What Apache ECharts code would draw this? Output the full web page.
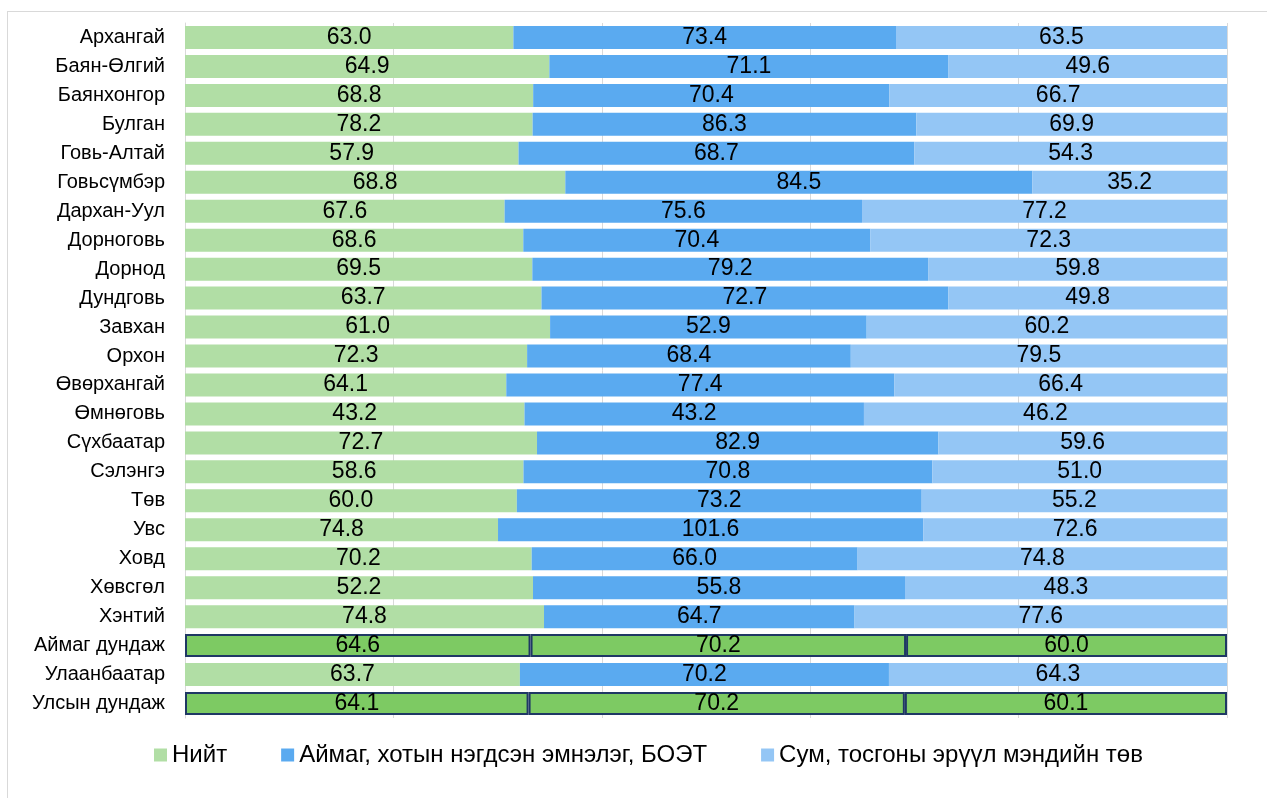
<!DOCTYPE html>
<html>
<head>
<meta charset="utf-8">
<script src="https://cdn.jsdelivr.net/npm/echarts@6/dist/echarts.min.js"></script>
<style>
  html, body { margin: 0; padding: 0; background: #fff; }
  #frame { position: absolute; left: 7px; top: 11px; width: 1300px; height: 820px; border: 1px solid #d9d9d9; }
  #main { position: absolute; left: 0; top: 0; width: 1267px; height: 798px; }
</style>
</head>
<body>
<div id="frame"></div>
<div id="main"></div>
<script>
var aimags = ["Архангай", "Баян-Өлгий", "Баянхонгор", "Булган", "Говь-Алтай", "Говьсүмбэр", "Дархан-Уул", "Дорноговь", "Дорнод", "Дундговь", "Завхан", "Орхон", "Өвөрхангай", "Өмнөговь", "Сүхбаатар", "Сэлэнгэ", "Төв", "Увс", "Ховд", "Хөвсгөл", "Хэнтий", "Аймаг дундаж", "Улаанбаатар", "Улсын дундаж"];
var series_names = ["Нийт", "Аймаг, хотын нэгдсэн эмнэлэг, БОЭТ", "Сум, тосгоны эрүүл мэндийн төв"];
var niit = [63.0, 64.9, 68.8, 78.2, 57.9, 68.8, 67.6, 68.6, 69.5, 63.7, 61.0, 72.3, 64.1, 43.2, 72.7, 58.6, 60.0, 74.8, 70.2, 52.2, 74.8, 64.6, 63.7, 64.1];
var aimag_emneleg = [73.4, 71.1, 70.4, 86.3, 68.7, 84.5, 75.6, 70.4, 79.2, 72.7, 52.9, 68.4, 77.4, 43.2, 82.9, 70.8, 73.2, 101.6, 66.0, 55.8, 64.7, 70.2, 70.2, 70.2];
var sum_tov = [63.5, 49.6, 66.7, 69.9, 54.3, 35.2, 77.2, 72.3, 59.8, 49.8, 60.2, 79.5, 66.4, 46.2, 59.6, 51.0, 55.2, 72.6, 74.8, 48.3, 77.6, 60.0, 64.3, 60.1];
var avg_rows = ["Аймаг дундаж", "Улсын дундаж"];
var colors = ['#b1dea5', '#5aaaf0', '#94c6f5'];

var chart = echarts.init(document.getElementById("main"));
var all_vals = [niit, aimag_emneleg, sum_tov];

// 100% stacked: share of row total, label shows original value
function build_series() {
    var out = [];
    for (var s = 0; s < all_vals.length; s++) {
        var data = [];
        for (var i = 0; i < aimags.length; i++) {
            var total = niit[i] + aimag_emneleg[i] + sum_tov[i];
            var item = { value: all_vals[s][i] / total * 100, raw: all_vals[s][i] };
            if (avg_rows.indexOf(aimags[i]) >= 0) {
                item.itemStyle = { color: '#7dca63', borderColor: '#1f3864', borderWidth: 2 };
            }
            data.push(item);
        }
        out.push({
            name: series_names[s],
            type: 'bar',
            stack: 'total',
            barWidth: 23,
            label: {
                show: true,
                position: 'inside',
                color: '#000',
                fontSize: 23,
                fontFamily: 'Liberation Sans',
                formatter: function (p) { return p.data.raw.toFixed(1); }
            },
            data: data
        });
    }
    return out;
}

var option = {
    animation: false,
    color: colors,
    textStyle: { fontFamily: 'Liberation Sans' },
    grid: { left: 185, right: 40, top: 23, bottom: 80, containLabel: false },
    legend: {
        data: series_names,
        left: 149,
        top: 738,
        icon: 'rect',
        itemWidth: 13,
        itemHeight: 13,
        itemGap: 54,
        textStyle: { fontSize: 24, color: '#000', fontFamily: 'Liberation Sans' }
    },
    xAxis: {
        type: 'value',
        min: 0,
        max: 100,
        interval: 20,
        axisLabel: { show: false },
        axisLine: { show: false },
        axisTick: { show: false },
        splitLine: { lineStyle: { color: '#d9d9d9', width: 1 } }
    },
    yAxis: {
        type: 'category',
        inverse: true,
        data: aimags,
        axisTick: { show: false },
        axisLine: { lineStyle: { color: '#d9d9d9' } },
        axisLabel: { color: '#000', fontSize: 20, margin: 20, fontFamily: 'Liberation Sans' }
    },
    series: build_series()
};
chart.setOption(option);
</script>
</body>
</html>
